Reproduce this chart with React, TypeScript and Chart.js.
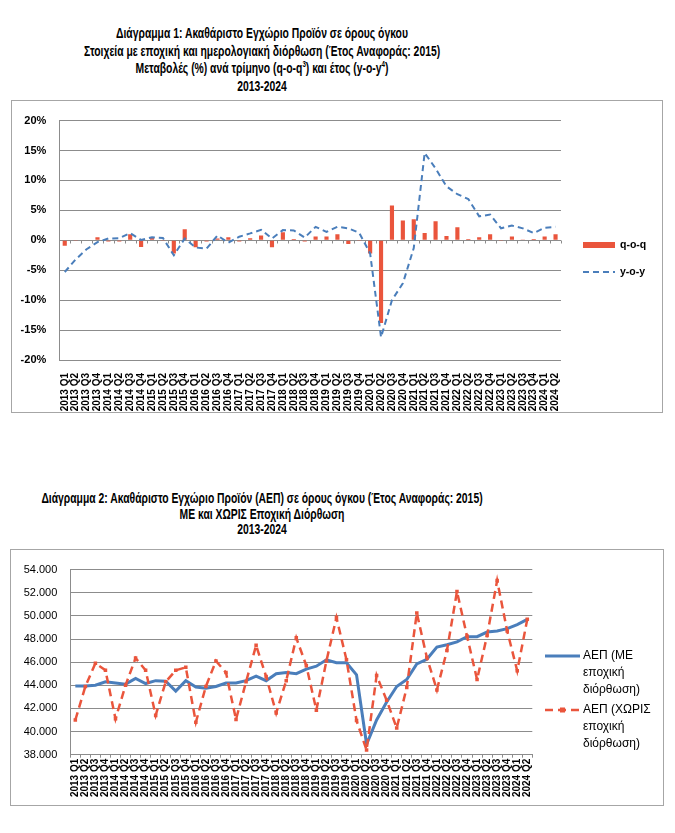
import React, { useEffect, useRef } from 'react';
import { Chart, registerables } from 'chart.js';

Chart.register(...registerables);

const quarters = [
  '2013 Q1', '2013 Q2', '2013 Q3', '2013 Q4',
  '2014 Q1', '2014 Q2', '2014 Q3', '2014 Q4',
  '2015 Q1', '2015 Q2', '2015 Q3', '2015 Q4',
  '2016 Q1', '2016 Q2', '2016 Q3', '2016 Q4',
  '2017 Q1', '2017 Q2', '2017 Q3', '2017 Q4',
  '2018 Q1', '2018 Q2', '2018 Q3', '2018 Q4',
  '2019 Q1', '2019 Q2', '2019 Q3', '2019 Q4',
  '2020 Q1', '2020 Q2', '2020 Q3', '2020 Q4',
  '2021 Q1', '2021 Q2', '2021 Q3', '2021 Q4',
  '2022 Q1', '2022 Q2', '2022 Q3', '2022 Q4',
  '2023 Q1', '2023 Q2', '2023 Q3', '2023 Q4',
  '2024 Q1', '2024 Q2',
];

const qoqValues = [
  -0.9, -0.1, 0.1, 0.5,
  -0.2, -0.2, 1.0, -1.1,
  0.5, -0.1, -2.2, 1.85,
  -1.15, -0.2, 0.3, 0.5,
  -0.2, 0.35, 0.8, -1.15,
  1.35, 0.2, -0.2, 0.65,
  0.65, 1.0, -0.6, -0.1,
  -2.2, -13.8, 5.8, 3.3,
  3.5, 1.2, 3.2, 0.7,
  2.2, 0.2, 0.5, 1.0,
  -0.1, 0.65, 0.05, 0.2,
  0.65, 1.0,
];

const yoyValues = [
  -5.3, -3.2, -1.5, -0.3,
  0.3, 0.35, 1.2, 0.05,
  0.5, 0.4, -2.5, 0.3,
  -1.2, -1.4, 0.8, -0.4,
  0.6, 1.15, 1.75, 0.3,
  1.7, 1.65, 0.45, 2.25,
  1.4, 2.25, 2.0, 1.25,
  -2.2, -16.2, -10.0, -7.2,
  -1.3, 14.6, 12.0, 9.0,
  7.7, 6.9, 4.0, 4.3,
  2.0, 2.45, 2.0, 1.2,
  2.1, 2.25,
];

const pctTicks = [-20, -15, -10, -5, 0, 5, 10, 15, 20];

const gdpSeasonallyAdjusted = [
  43930, 43930, 44000, 44300,
  44200, 44100, 44600, 44150,
  44400, 44350, 43500, 44400,
  43850, 43750, 43900, 44200,
  44200, 44400, 44800, 44400,
  45000, 45100, 45000, 45400,
  45650, 46200, 45950, 45950,
  44900, 38900, 41000, 42550,
  43900, 44500, 45850, 46250,
  47300, 47500, 47750, 48200,
  48200, 48600, 48700, 48900,
  49250, 49700,
];

const gdpNotAdjusted = [
  41000, 43900, 45900, 45300,
  41100, 44000, 46350, 45300,
  41400, 44300, 45300, 45550,
  40800, 43900, 46100, 45100,
  41050, 44300, 47450, 44750,
  41600, 44400, 48100, 45700,
  41850, 46100, 49850, 46200,
  40950, 38400, 44850, 42700,
  40300, 43800, 50250, 46400,
  43600, 47000, 52100, 48250,
  44500, 48300, 53050, 48700,
  45250, 49700,
];

const gdpTicks = [38000, 40000, 42000, 44000, 46000, 48000, 50000, 52000, 54000];

const title1Lines = [
  'Διάγραμμα 1: Ακαθάριστο Εγχώριο Προϊόν σε όρους όγκου',
  'Στοιχεία με εποχική και ημερολογιακή διόρθωση (Έτος Αναφοράς: 2015)',
  'Μεταβολές (%) ανά τρίμηνο (q-o-q³) και έτος (y-o-y⁴)',
  '2013-2024',
];
const title2Lines = [
  'Διάγραμμα 2: Ακαθάριστο Εγχώριο Προϊόν (ΑΕΠ) σε όρους όγκου (Έτος Αναφοράς: 2015)',
  'ΜΕ και ΧΩΡΙΣ Εποχική Διόρθωση',
  '2013-2024',
];

const legend1Labels = [['q-o-q'], ['y-o-y']];
const legend2Labels = [
  ['ΑΕΠ (ΜΕ', 'εποχική', 'διόρθωση)'],
  ['ΑΕΠ (ΧΩΡΙΣ', 'εποχική', 'διόρθωση)'],
];

const FONT = "'Liberation Sans', Arial, sans-serif";
const GRID = '#8c8c8c';
const RED = '#EA553C';
const BLUE = '#4A7EBB';

function makeLegendPlugin(cfg: any) {
  return {
    id: 'customLegend',
    afterDraw(chart: any) {
      const ctx = chart.ctx;
      ctx.save();
      cfg.items.forEach((item: any, i: number) => {
        const ds = chart.data.datasets[i];
        const y = item.y;
        if (item.kind === 'bar') {
          ctx.fillStyle = ds.backgroundColor;
          ctx.fillRect(cfg.x, y - cfg.barH / 2, cfg.swatchW, cfg.barH);
        } else {
          ctx.strokeStyle = ds.borderColor;
          ctx.lineWidth = ds.borderWidth;
          ctx.setLineDash(ds.borderDash || []);
          ctx.beginPath();
          ctx.moveTo(cfg.x, y);
          ctx.lineTo(cfg.x + cfg.swatchW, y);
          ctx.stroke();
          ctx.setLineDash([]);
          if (ds.pointRadius > 0) {
            const r = ds.pointRadius;
            ctx.fillStyle = ds.pointBackgroundColor;
            ctx.fillRect(cfg.x + cfg.swatchW / 2 - r, y - r, r * 2, r * 2);
          }
        }
        ctx.fillStyle = '#000';
        ctx.font = cfg.font;
        ctx.textBaseline = 'middle';
        ctx.textAlign = 'left';
        item.lines.forEach((t: string, k: number) => {
          ctx.fillText(t, cfg.textX, y + k * cfg.lineHeight);
        });
      });
      ctx.restore();
    },
  };
}

const zeroTicksPlugin = {
  id: 'zeroTicks',
  beforeDatasetsDraw(chart: any) {
    const x = chart.scales.x;
    const y = chart.scales.y;
    const y0 = Math.round(y.getPixelForValue(0)) + 0.5;
    const n = chart.data.labels.length;
    const w = (x.right - x.left) / n;
    const ctx = chart.ctx;
    ctx.save();
    ctx.strokeStyle = GRID;
    ctx.lineWidth = 1;
    ctx.beginPath();
    for (let i = 0; i <= n; i++) {
      const px = Math.round(x.left + i * w) + 0.5;
      ctx.moveTo(px, y0);
      ctx.lineTo(px, y0 + 3);
    }
    ctx.stroke();
    ctx.restore();
  },
};

function ChartOne() {
  const ref = useRef<HTMLCanvasElement>(null);
  useEffect(() => {
    const chart = new Chart(ref.current as HTMLCanvasElement, {
      type: 'bar',
      data: {
        labels: quarters,
        datasets: [
          {
            type: 'bar',
            label: 'q-o-q',
            data: qoqValues,
            backgroundColor: RED,
            barPercentage: 0.38,
            categoryPercentage: 1,
            order: 1,
          },
          {
            type: 'line',
            label: 'y-o-y',
            data: yoyValues,
            borderColor: BLUE,
            backgroundColor: BLUE,
            borderWidth: 2,
            borderDash: [6, 4],
            pointRadius: 0,
            tension: 0,
            order: 0,
          } as any,
        ],
      },
      options: {
        animation: false,
        responsive: false,
        maintainAspectRatio: false,
        layout: { padding: { left: 0, top: 14, right: 101, bottom: 0 } },
        plugins: {
          legend: { display: false },
          tooltip: { enabled: false },
        },
        scales: {
          x: {
            grid: { display: false },
            border: { display: false },
            ticks: {
              autoSkip: false,
              maxRotation: 90,
              minRotation: 90,
              padding: 5,
              color: '#000',
              font: { family: FONT, size: 10, weight: 'bold' },
            },
            afterFit: (s: any) => { s.height = 52; },
          },
          y: {
            min: -20,
            max: 20,
            afterBuildTicks: (s: any) => { s.ticks = pctTicks.map((v) => ({ value: v })); },
            ticks: {
              padding: 13,
              color: '#000',
              font: { family: FONT, size: 11, weight: 'bold' },
              callback: (v: any) => v + '%',
            },
            grid: { color: GRID, drawTicks: false },
            border: { color: GRID },
            afterFit: (s: any) => { s.width = 47.3; },
          },
        },
      } as any,
      plugins: [
        zeroTicksPlugin,
        makeLegendPlugin({
          x: 571,
          swatchW: 32,
          barH: 6,
          textX: 608,
          lineHeight: 14,
          font: `bold 10.5px ${FONT}`,
          items: [
            { kind: 'bar', y: 144, lines: legend1Labels[0] },
            { kind: 'line', y: 171, lines: legend1Labels[1] },
          ],
        }),
      ],
    });
    return () => chart.destroy();
  }, []);
  return <canvas ref={ref} width={650} height={311} style={{ display: 'block' }} />;
}

function ChartTwo() {
  const ref = useRef<HTMLCanvasElement>(null);
  useEffect(() => {
    const chart = new Chart(ref.current as HTMLCanvasElement, {
      type: 'line',
      data: {
        labels: quarters,
        datasets: [
          {
            label: 'ΑΕΠ (ΜΕ εποχική διόρθωση)',
            data: gdpSeasonallyAdjusted,
            borderColor: BLUE,
            backgroundColor: BLUE,
            borderWidth: 3,
            pointRadius: 0,
            tension: 0,
            order: 1,
          },
          {
            label: 'ΑΕΠ (ΧΩΡΙΣ εποχική διόρθωση)',
            data: gdpNotAdjusted,
            borderColor: RED,
            backgroundColor: RED,
            borderWidth: 2.5,
            borderDash: [8, 5],
            pointStyle: 'rect',
            pointRadius: 2.5,
            pointBackgroundColor: RED,
            pointBorderWidth: 0,
            tension: 0,
            order: 0,
          } as any,
        ],
      },
      options: {
        animation: false,
        responsive: false,
        maintainAspectRatio: false,
        layout: { padding: { left: 0, top: 10.3, right: 130.7, bottom: 0 } },
        plugins: {
          legend: { display: false },
          tooltip: { enabled: false },
        },
        scales: {
          x: {
            offset: true,
            grid: {
              display: true,
              offset: true,
              drawOnChartArea: false,
              drawTicks: true,
              tickLength: 3,
              color: GRID,
            },
            border: { color: GRID },
            ticks: {
              autoSkip: false,
              maxRotation: 90,
              minRotation: 90,
              padding: 1,
              color: '#000',
              font: { family: FONT, size: 10, weight: 'bold' },
            },
            afterFit: (s: any) => { s.height = 50.3; },
          },
          y: {
            min: 38000,
            max: 54000,
            afterBuildTicks: (s: any) => { s.ticks = gdpTicks.map((v) => ({ value: v })); },
            ticks: {
              padding: 13,
              color: '#000',
              font: { family: FONT, size: 11 },
              callback: (v: any) => {
                const n = Math.round(Number(v));
                return Math.floor(n / 1000) + '.' + String(n % 1000).padStart(3, '0');
              },
            },
            grid: { color: GRID, drawTicks: false },
            border: { color: GRID },
            afterFit: (s: any) => { s.width = 59.3; },
          },
        },
      } as any,
      plugins: [
        makeLegendPlugin({
          x: 534,
          swatchW: 35,
          barH: 6,
          textX: 572,
          lineHeight: 17,
          font: `12px ${FONT}`,
          items: [
            { kind: 'line', y: 106, lines: legend2Labels[0] },
            { kind: 'line', y: 160, lines: legend2Labels[1] },
          ],
        }),
      ],
    });
    return () => chart.destroy();
  }, []);
  return <canvas ref={ref} width={652} height={255} style={{ display: 'block' }} />;
}

function renderLine(t: string) {
  const parts = t.split(/([³⁴])/);
  return parts.map((p, i) => {
    if (p === '³') return <sup key={i} style={{ fontSize: '0.6em', lineHeight: 0 }}>3</sup>;
    if (p === '⁴') return <sup key={i} style={{ fontSize: '0.6em', lineHeight: 0 }}>4</sup>;
    return <React.Fragment key={i}>{p}</React.Fragment>;
  });
}

const lineStyle: React.CSSProperties = {
  whiteSpace: 'nowrap',
  transform: 'scaleX(0.74)',
  transformOrigin: '500px 0',
};

export default function App() {
  const titleStyle: React.CSSProperties = {
    position: 'absolute',
    left: -238,
    width: 1000,
    textAlign: 'center',
    fontFamily: FONT,
    fontWeight: 'bold',
    fontSize: 14,
    color: '#000',
  };
  return (
    <div style={{ position: 'absolute', left: 0, top: 0, width: 675, height: 833, background: '#fff', overflow: 'hidden' }}>
      <div style={{ ...titleStyle, top: 25, lineHeight: '17.7px' }}>
        {title1Lines.map((l, i) => (
          <div key={i} style={lineStyle}>{renderLine(l)}</div>
        ))}
      </div>
      <div
        style={{
          position: 'absolute',
          left: 11,
          top: 100,
          width: 650,
          height: 311,
          border: '1px solid #a6a6a6',
        }}
      >
        <ChartOne />
      </div>
      <div style={{ ...titleStyle, top: 491, lineHeight: '15.7px' }}>
        {title2Lines.map((l, i) => (
          <div key={i} style={lineStyle}>{l}</div>
        ))}
      </div>
      <div
        style={{
          position: 'absolute',
          left: 10,
          top: 549,
          width: 652,
          height: 255,
          border: '1px solid #a6a6a6',
        }}
      >
        <ChartTwo />
      </div>
    </div>
  );
}
